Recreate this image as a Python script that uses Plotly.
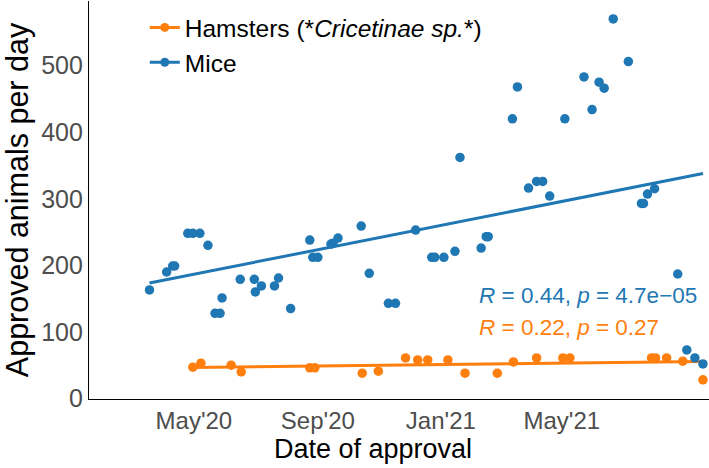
import numpy as np
import pandas as pd
import plotly.graph_objects as go

# ---- data ----
mice_dates = [
    "2020-03-18", "2020-04-04", "2020-04-10", "2020-04-12", "2020-04-25", "2020-04-30",
    "2020-05-07", "2020-05-15", "2020-05-22", "2020-05-27", "2020-05-29", "2020-06-16",
    "2020-06-30", "2020-07-01", "2020-07-07", "2020-07-20", "2020-07-24", "2020-08-05",
    "2020-08-24", "2020-08-27", "2020-09-01", "2020-09-14", "2020-09-16", "2020-09-21",
    "2020-10-14", "2020-10-22", "2020-11-10", "2020-11-17", "2020-12-07", "2020-12-23",
    "2020-12-26", "2021-01-04", "2021-01-15", "2021-01-20", "2021-02-10", "2021-02-15",
    "2021-02-17", "2021-03-13", "2021-03-18", "2021-03-29", "2021-04-06", "2021-04-12",
    "2021-04-19", "2021-05-04", "2021-05-23", "2021-05-31", "2021-06-07", "2021-06-12",
    "2021-06-21", "2021-07-06", "2021-07-19", "2021-07-21", "2021-07-25", "2021-08-01",
    "2021-08-24", "2021-09-02", "2021-09-10", "2021-09-18",
]
mice_values = [
    163, 190, 199, 199, 248, 248,
    248, 230, 128, 128, 151, 179,
    179, 160, 169, 169, 181, 135,
    238, 212, 212, 232, 233, 241,
    259, 188, 143, 143, 253, 212,
    212, 212, 221, 362, 226, 243,
    243, 420, 468, 316, 326, 326,
    304, 420, 483, 434, 475, 466,
    570, 506, 293, 293, 307, 315,
    187, 73, 61, 52,
]

hamster_dates = [
    "2020-04-30", "2020-05-08", "2020-06-07", "2020-06-17", "2020-08-24", "2020-08-29",
    "2020-10-15", "2020-10-31", "2020-11-27", "2020-12-09", "2020-12-19", "2021-01-08",
    "2021-01-25", "2021-02-26", "2021-03-14", "2021-04-06", "2021-05-02", "2021-05-09",
    "2021-07-29", "2021-08-02", "2021-08-13", "2021-08-29", "2021-09-18",
]
hamster_values = [
    47, 53, 50, 40, 46, 46,
    38, 41, 61, 58, 58, 58,
    38, 38, 55, 61, 61, 61,
    61, 61, 61, 56, 28,
]

series_names = ["Hamsters (*<i>Cricetinae sp.</i>*)", "Mice"]
series_colors = ["#ff7f0e", "#1f77b4"]
stat_labels = ["<i>R</i> = 0.22, <i>p</i> = 0.27", "<i>R</i> = 0.44, <i>p</i> = 4.7e\u221205"]
stat_label_x = "2021-02-06"
stat_label_y = [106, 155]

x_tick_vals = ["2020-05-01", "2020-09-01", "2021-01-01", "2021-05-01"]
x_tick_text = ["May'20", "Sep'20", "Jan'21", "May'21"]
y_tick_vals = [0, 100, 200, 300, 400, 500]

x_range = ["2020-01-18", "2021-09-24"]
y_range = [-0.75, 597]

FONT = "Liberation Sans, Arial, sans-serif"


def fit_line(dates, values):
    d = pd.to_datetime(pd.Series(dates))
    t = (d - d.min()).dt.days.to_numpy(dtype=float)
    slope, intercept = np.polyfit(t, np.asarray(values, dtype=float), 1)
    ends = np.array([t.min(), t.max()])
    return [d.min(), d.max()], list(intercept + slope * ends)


fig = go.Figure()
for dates, values, name, color in [
    (hamster_dates, hamster_values, series_names[0], series_colors[0]),
    (mice_dates, mice_values, series_names[1], series_colors[1]),
]:
    fx, fy = fit_line(dates, values)
    fig.add_trace(go.Scatter(
        x=fx, y=fy, mode="lines", line=dict(color=color, width=3),
        showlegend=False, hoverinfo="skip",
    ))
    fig.add_trace(go.Scatter(
        x=pd.to_datetime(dates), y=values, mode="markers",
        marker=dict(color=color, size=9.5), showlegend=False, name=name,
    ))
    fig.add_trace(go.Scatter(
        x=[None], y=[None], mode="lines+markers", name=name,
        line=dict(color=color, width=3), marker=dict(color=color, size=9),
    ))

for lbl, yv, color in zip(stat_labels, stat_label_y, series_colors):
    fig.add_annotation(
        x=stat_label_x, y=yv, text=lbl, showarrow=False, xanchor="left", yanchor="middle",
        font=dict(family=FONT, size=22.5, color=color),
    )

fig.add_annotation(
    xref="paper", yref="paper", x=0.458, y=-0.125, text="Date of approval",
    showarrow=False, xanchor="center", yanchor="middle",
    font=dict(family=FONT, size=27, color="black"),
)

fig.update_layout(
    width=709, height=468,
    margin=dict(l=89, r=0, t=1, b=69, autoexpand=False),
    paper_bgcolor="white", plot_bgcolor="white",
    font=dict(family=FONT, color="black"),
    legend=dict(
        x=0.09, y=0.99, xanchor="left", yanchor="top",
        font=dict(family=FONT, size=24.5, color="black"),
        bgcolor="rgba(0,0,0,0)",
    ),
    xaxis=dict(
        range=x_range, type="date", automargin=False,
        tickvals=x_tick_vals, ticktext=x_tick_text,
        showgrid=False, zeroline=False, ticks="",
        showline=True, linecolor="black", linewidth=1.3,
        tickfont=dict(family=FONT, size=24, color="#4d4d4d"),
    ),
    yaxis=dict(
        range=y_range, tickvals=y_tick_vals, automargin=False,
        showgrid=False, zeroline=False, ticks="",
        showline=True, linecolor="black", linewidth=1.3,
        tickfont=dict(family=FONT, size=25, color="#4d4d4d"),
        title=dict(text="Approved animals per day", font=dict(family=FONT, size=30.5, color="black"), standoff=6),
    ),
)

fig.write_html(
    "out.html",
    config={"displayModeBar": False},
    post_script="document.body.style.margin='0px';",
)
